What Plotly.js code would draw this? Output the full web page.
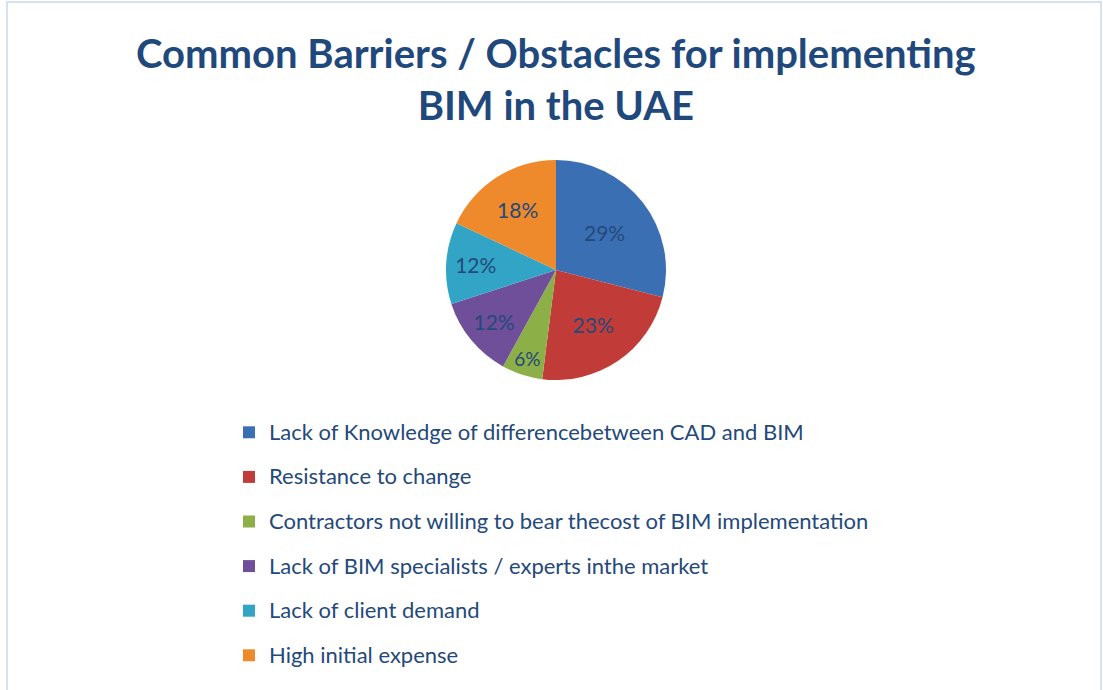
<!DOCTYPE html>
<html>
<head>
<meta charset="utf-8">
<script src="https://cdn.plot.ly/plotly-3.0.1.min.js"></script>
<style>
    body { margin: 0; background: #ffffff; }
    #barriersPie { width: 1103px; height: 690px; }
</style>
</head>
<body>
<div id="barriersPie"></div>
<script>
    const barrierLabels = [
        'Lack of Knowledge of differencebetween CAD and BIM',
        'Resistance to change',
        'Contractors not willing to bear thecost of BIM implementation',
        'Lack of BIM specialists / experts inthe market',
        'Lack of client demand',
        'High initial expense'
    ];
    const barrierShares = [29, 23, 6, 12, 12, 18];
    const sliceColors = ['#3B6FB4', '#C13C38', '#8DAF47', '#6F4F99', '#32A5C6', '#EE8A2C'];

    function drawBarriersPie() {
        // legend font is large so the rows get the spacing, the span keeps the text small
        const legendLabels = barrierLabels.map(l =>
            `<span style="font-size:22px;baseline-shift:5px">${l}</span>`);

        var data = [{
            type: 'pie',
            values: barrierShares,
            labels: legendLabels,
            sort: false,
            direction: 'clockwise',
            rotation: 0,
            textinfo: 'percent',
            texttemplate: '%{percent:.0%}',
            textposition: 'inside',
            insidetextorientation: 'horizontal',
            textfont: { family: 'Lato', size: 21, color: '#24497A' },
            hoverinfo: 'percent',
            domain: { x: [446 / 1103, 666 / 1103], y: [1 - 380 / 690, 1 - 160 / 690] },
            marker: {
                colors: sliceColors,
                line: { width: 0 }
            }
        }];

        var layout = {
            title: {
                text: 'Common Barriers / Obstacles for implementing<br>BIM in the UAE',
                font: { family: 'Lato', size: 40, color: '#1F497D', weight: 'bold' },
                x: 0.504,
                xanchor: 'center',
                y: 1 - 68 / 690,
                yanchor: 'top'
            },
            showlegend: true,
            legend: {
                orientation: 'v',
                x: 229 / 1103,
                xanchor: 'left',
                y: 1 - 405 / 690,
                yanchor: 'top',
                font: { family: 'Lato', size: 32, color: '#24497A' },
                bgcolor: 'rgba(0,0,0,0)'
            },
            shapes: [{
                type: 'rect',
                xref: 'paper', yref: 'paper',
                x0: 7 / 1103, x1: 1101 / 1103,
                y0: -0.05, y1: 1 - 2 / 690,
                line: { color: '#D6E2F1', width: 2 }
            }],
            margin: { l: 0, r: 0, t: 0, b: 0 },
            width: 1103,
            height: 690,
            paper_bgcolor: '#ffffff'
        };

        Plotly.newPlot('barriersPie', data, layout, { displayModeBar: false });
    }

    drawBarriersPie();
</script>
</body>
</html>
